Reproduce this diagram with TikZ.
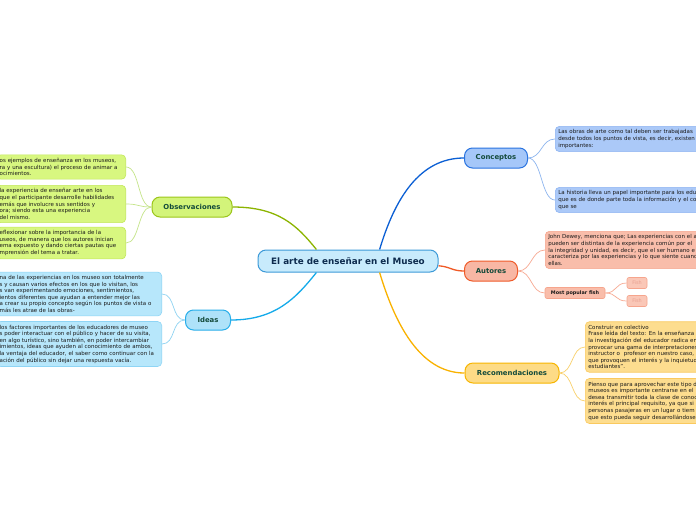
\documentclass[tikz,border=0pt]{standalone}
\usepackage{fontspec}
\setmainfont{DejaVu Sans}
\usepackage{xcolor}
\usepackage{tikz}
\definecolor{titlefill}{HTML}{C8EBFC}
\definecolor{titledraw}{HTML}{3D9AD8}
\definecolor{titletext}{HTML}{0D2B4E}
\definecolor{topictext}{HTML}{134A3A}
\definecolor{obsfill}{HTML}{D3F47A}
\definecolor{obsdraw}{HTML}{9CC61A}
\definecolor{obsline}{HTML}{8CB400}
\definecolor{obsleaf}{HTML}{D8F780}
\definecolor{obsleafdraw}{HTML}{C2E85A}
\definecolor{obsthin}{HTML}{C5E58A}
\definecolor{ideafill}{HTML}{AEE2F9}
\definecolor{ideadraw}{HTML}{28AEEA}
\definecolor{idealine}{HTML}{14AAEA}
\definecolor{idealeaf}{HTML}{B7E7FB}
\definecolor{idealeafdraw}{HTML}{8FD5F5}
\definecolor{ideathin}{HTML}{8ED3F2}
\definecolor{confill}{HTML}{A5C7F9}
\definecolor{condraw}{HTML}{2A74E0}
\definecolor{conline}{HTML}{0B5FD4}
\definecolor{conleaf}{HTML}{ABC9F8}
\definecolor{conleafdraw}{HTML}{8EB4F2}
\definecolor{conthin}{HTML}{8EB6EF}
\definecolor{autfill}{HTML}{F8B7A4}
\definecolor{autdraw}{HTML}{EF5B2A}
\definecolor{autline}{HTML}{F05A26}
\definecolor{autleaf}{HTML}{F9BDAA}
\definecolor{autleafdraw}{HTML}{F6A58D}
\definecolor{autthin}{HTML}{F7A992}
\definecolor{fishtext}{HTML}{E8A090}
\definecolor{recfill}{HTML}{FDDB86}
\definecolor{recdraw}{HTML}{F7B500}
\definecolor{recline}{HTML}{F9B200}
\definecolor{recleaf}{HTML}{FDDD8F}
\definecolor{recleafdraw}{HTML}{FAC95E}
\definecolor{recthin}{HTML}{F9D06A}

\begin{document}
\begin{tikzpicture}[x=1pt, y=-1pt,
  every node/.style={font=\fontsize{5.5}{6.6}\selectfont, text=black!90},
  topic/.style={draw, line width=1pt, rounded corners=8pt, minimum height=20pt, inner sep=0pt, text=topictext, font=\fontsize{6.9}{8}\selectfont\bfseries},
  leaf/.style={draw, line width=0.6pt, rounded corners=4pt, align=left, inner xsep=3pt, inner ysep=3.3pt},
  branch/.style={line width=1.3pt},
  twig/.style={line width=0.7pt}]
  \clip (0,0) rectangle (696,520);
  \fill[white] (0,0) rectangle (696,520);

  \node[draw=titledraw, fill=titlefill, line width=1pt, rounded corners=8pt, minimum width=180pt, minimum height=22pt, inner sep=0pt, text=titletext, font=\fontsize{8.8}{10}\selectfont\bfseries] (title) at (348,261) {El arte de enseñar en el Museo};

  \node[topic, draw=obsdraw, fill=obsfill, minimum width=80pt] (obs) at (192,207) {Observaciones};
  \node[topic, draw=ideadraw, fill=ideafill, minimum width=45pt] (ideas) at (208,320) {Ideas};
  \node[topic, draw=condraw, fill=confill, minimum width=63pt] (con) at (496,158) {Conceptos};
  \node[topic, draw=autdraw, fill=autfill, minimum width=53pt] (aut) at (491,271) {Autores};
  \node[topic, draw=recdraw, fill=recfill, minimum width=94pt] (rec) at (512,373) {Recomendaciones};

  \node[leaf, draw=obsleafdraw, fill=obsleaf, text width=123pt, anchor=east] (obs1) at (126,167) {os ejemplos de enseñanza en los museos,\\ra y una escultura) el proceso de animar a\\ocimientos.};
  \node[leaf, draw=obsleafdraw, fill=obsleaf, text width=123pt, anchor=east] (obs2) at (126,204) {la experiencia de enseñar arte en los\\que el participante desarrolle habilidades\\emás que involucre sus sentidos y\\ora; siendo esta una experiencia\\ del mismo.};
  \node[leaf, draw=obsleafdraw, fill=obsleaf, text width=123pt, anchor=east] (obs3) at (126,243) {eflexionar sobre la importancia de la\\useos, de manera que los autores inician\\ema expuesto y dando ciertas pautas que\\mprensión del tema a tratar.};

  \node[leaf, draw=idealeafdraw, fill=idealeaf, text width=159pt, anchor=east] (idea1) at (162,294) {na de las experiencias en los museo son totalmente\\s y causan varios efectos en los que lo visitan, los\\s van experimentando emociones, sentimientos,\\ientos diferentes que ayudan a entender mejor las\\a crear su propio concepto según los puntos de vista o\\más les atrae de las obras-};
  \node[leaf, draw=idealeafdraw, fill=idealeaf, text width=159pt, anchor=east] (idea2) at (162,344) {los factores importantes de los educadores de museo\\s poder interactuar con el público y hacer de su visita,\\ en algo turístico, sino también, en poder intercambiar\\imientos, ideas que ayuden al conocimiento de ambos,\\la ventaja del educador, el saber como continuar con la\\ación del público sin dejar una respuesta vacía.};

  \node[leaf, draw=conleafdraw, fill=conleaf, text width=200pt, anchor=west] (con1) at (555,139) {Las obras de arte como tal deben ser trabajadas\\desde todos los puntos de vista, es decir, existen\\importantes:};
  \node[leaf, draw=conleafdraw, fill=conleaf, text width=200pt, anchor=west] (con2) at (555,200) {La historia lleva un papel importante para los edu\\que es de donde parte toda la información y el co\\que se};

  \node[leaf, draw=autleafdraw, fill=autleaf, text width=200pt, anchor=west] (aut1) at (545,250) {John Dewey, menciona que; Las experiencias con el a\\pueden ser distintas de la experiencia común por el\\la integridad y unidad, es decir, que el ser humano e\\caracteriza por las experiencias y lo que siente cuand\\ellas.};
  \node[draw=autleafdraw, fill=autleaf, line width=0.6pt, rounded corners=2pt, minimum width=60pt, minimum height=11pt, inner sep=0pt, font=\fontsize{4.9}{6}\selectfont\bfseries] (fish) at (575,293) {Most popular fish};
  \node[draw=autleafdraw, fill=autleaf!85!white, line width=0.6pt, rounded corners=2pt, minimum width=20pt, minimum height=11pt, inner sep=0pt, text=fishtext, font=\fontsize{4.9}{6}\selectfont] (fish1) at (637,283) {Fish};
  \node[draw=autleafdraw, fill=autleaf!85!white, line width=0.6pt, rounded corners=2pt, minimum width=20pt, minimum height=11pt, inner sep=0pt, text=fishtext, font=\fontsize{4.9}{6}\selectfont] (fish2) at (637,301) {Fish};

  \node[leaf, draw=recleafdraw, fill=recleaf, text width=200pt, anchor=west] (rec1) at (585,347) {Construir en colectivo\\Frase leída del texto: En la enseñanza\\la investigación del educador radica en\\provocar una gama de interpretaciones\\instructor o \ profesor en nuestro caso,\\que provoquen el interés y la inquietud\\estudiantes".};
  \node[leaf, draw=recleafdraw, fill=recleaf, text width=200pt, anchor=west] (rec2) at (585,401) {Pienso que para aprovechar este tipo d\\museos es importante centrarse en el\\desea transmitir toda la clase de conoc\\interés el principal requisito, ya que si\\personas pasajeras en un lugar o tiem\\que esto pueda seguir desarrollándose};

  \draw[branch, obsline] (title.160) .. controls +(-20,-25) and +(45,0) .. (obs.east);
  \draw[branch, idealine] (title.200) .. controls +(-20,25) and +(45,0) .. (ideas.east);
  \draw[branch, conline] (title.20) .. controls +(15,-50) and +(-45,0) .. (con.west);
  \draw[branch, autline] (title.-3) .. controls +(12,1) and +(-12,0) .. (aut.west);
  \draw[branch, recline] (title.-20) .. controls +(15,50) and +(-45,0) .. (rec.west);

  \draw[twig, obsthin] (obs.west) .. controls +(-14,0) and +(14,0) .. (obs1.east);
  \draw[twig, obsthin] (obs.west) .. controls +(-14,0) and +(14,0) .. (obs2.east);
  \draw[twig, obsthin] (obs.west) .. controls +(-14,0) and +(14,0) .. (obs3.east);
  \draw[twig, ideathin] (ideas.west) .. controls +(-14,0) and +(14,0) .. (idea1.east);
  \draw[twig, ideathin] (ideas.west) .. controls +(-14,0) and +(14,0) .. (idea2.east);
  \draw[twig, conthin] (con.east) .. controls +(14,0) and +(-14,0) .. (con1.west);
  \draw[twig, conthin] (con.east) .. controls +(14,0) and +(-14,0) .. (con2.west);
  \draw[twig, autthin] (aut.east) .. controls +(14,0) and +(-14,0) .. (aut1.west);
  \draw[twig, autthin] (aut.east) .. controls +(14,0) and +(-14,0) .. (fish.west);
  \draw[twig, autthin] (fish.east) .. controls +(12,0) and +(-12,0) .. (fish1.west);
  \draw[twig, autthin] (fish.east) .. controls +(12,0) and +(-12,0) .. (fish2.west);
  \draw[twig, recthin] (rec.east) .. controls +(14,0) and +(-14,0) .. (rec1.west);
  \draw[twig, recthin] (rec.east) .. controls +(14,0) and +(-14,0) .. (rec2.west);
\end{tikzpicture}
\end{document}
